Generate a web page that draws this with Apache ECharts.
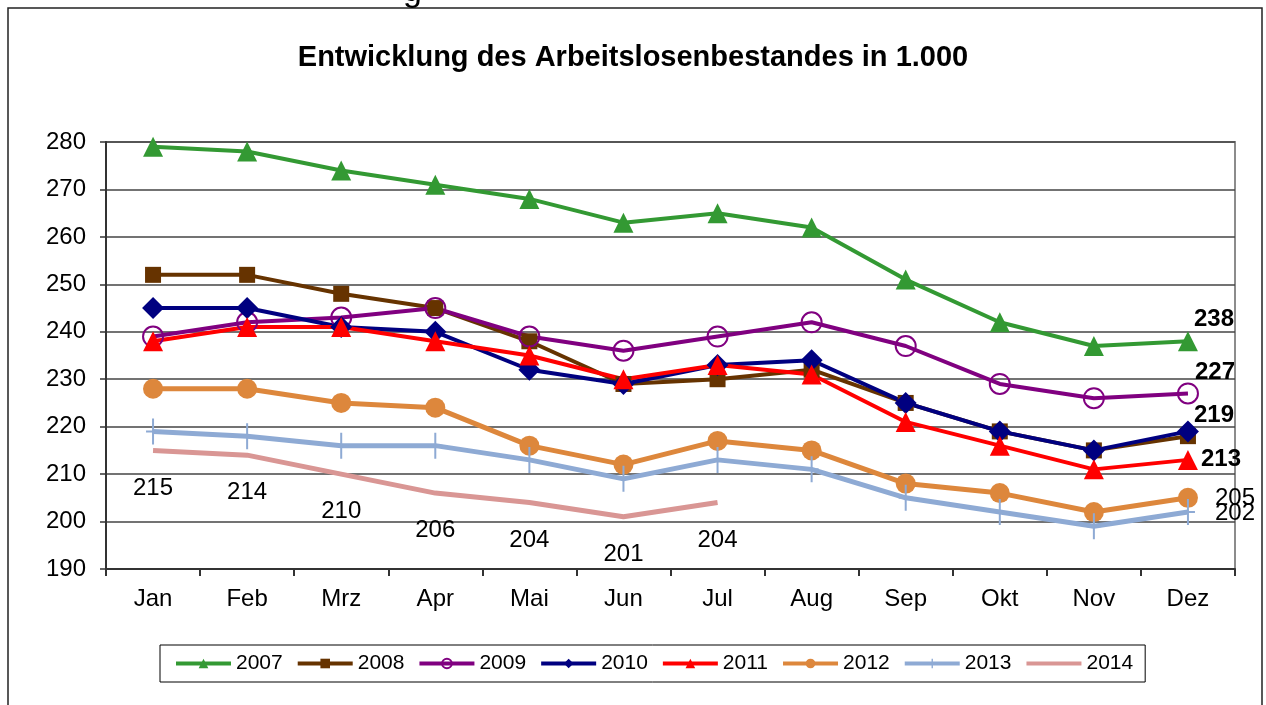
<!DOCTYPE html>
<html>
<head>
<meta charset="utf-8">
<script src="https://cdn.jsdelivr.net/npm/echarts@6/dist/echarts.min.js"></script>
<style>
  html, body { margin: 0; padding: 0; background: #fff; }
  #chart { width: 1266px; height: 705px; }
</style>
</head>
<body>
<div id="chart"></div>
<script>
// Monate
var months = ['Jan', 'Feb', 'Mrz', 'Apr', 'Mai', 'Jun', 'Jul', 'Aug', 'Sep', 'Okt', 'Nov', 'Dez'];
// Arbeitslosenbestand in 1.000 je Jahr
var y2007 = [279, 278, 274, 271, 268, 263, 265, 262, 251, 242, 237, 238];
var y2008 = [252, 252, 248, 245, 238, 229, 230, 232, 225, 219, 215, 218];
var y2009 = [239, 242, 243, 245, 239, 236, 239, 242, 237, 229, 226, 227];
var y2010 = [245, 245, 241, 240, 232, 229, 233, 234, 225, 219, 215, 219];
var y2011 = [238, 241, 241, 238, 235, 230, 233, 231, 221, 216, 211, 213];
var y2012 = [228, 228, 225, 224, 216, 212, 217, 215, 208, 206, 202, 205];
var y2013 = [219, 218, 216, 216, 213, 209, 213, 211, 205, 202, 199, 202];
var y2014 = [215, 214, 210, 206, 204, 201, 204];
var yTicks = [190, 280, 10]; // min, max, interval

var FONT = '"Liberation Sans", Arial, sans-serif';
var plusPath = 'path://M6,0 L8,0 L8,12 L14,12 L14,14 L8,14 L8,26 L6,26 L6,14 L0,14 L0,12 L6,12 Z';

// Beschriftung am letzten Punkt (Dez)
function lastLabel(arr, offset, bold) {
    return arr.map(function (v, i) {
        if (i !== arr.length - 1) return v;
        return {
            value: v,
            label: {
                show: true,
                position: 'right',
                distance: 0,
                offset: offset,
                fontFamily: FONT,
                fontSize: 24,
                fontWeight: bold ? 'bold' : 'normal',
                color: '#000'
            }
        };
    });
}

function line(name, data, color, symbol, size, width) {
    return {
        name: name,
        type: 'line',
        data: data,
        symbol: symbol,
        symbolSize: size,
        clip: false,
        lineStyle: { color: color, width: width || 4 },
        itemStyle: { color: color },
        emphasis: { disabled: true },
        animation: false
    };
}

var chart = echarts.init(document.getElementById('chart'));

var s2009 = line('2009', lastLabel(y2009, [-4, -21], true), '#800080', 'circle', 20);
s2009.itemStyle = { color: 'rgba(255,255,255,0)', borderColor: '#800080', borderWidth: 2 };

var s2014 = line('2014', y2014, '#d99694', 'circle', 1, 5);
s2014.itemStyle = { color: 'rgba(0,0,0,0)' };
s2014.label = {
    show: true,
    position: 'bottom',
    distance: 25,
    fontFamily: FONT,
    fontSize: 24,
    color: '#000'
};

chart.setOption({
    backgroundColor: '#fff',
    textStyle: { fontFamily: FONT },
    title: {
        text: 'Entwicklung des Arbeitslosenbestandes in 1.000',
        left: 'center',
        top: 38,
        textStyle: { fontFamily: FONT, fontSize: 29, fontWeight: 'bold', color: '#000' }
    },
    graphic: [
        {
            type: 'rect',
            shape: { x: 8, y: 8, width: 1254, height: 720 },
            style: { fill: 'none', stroke: '#222', lineWidth: 1.5 },
            silent: true
        },
        {
            type: 'text',
            x: 403,
            y: 9,
            style: { text: 'g', fontFamily: FONT, fontSize: 34, fill: '#000', verticalAlign: 'bottom' },
            silent: true
        }
    ],
    legend: {
        left: 160,
        top: 645,
        padding: [8, 12, 8, 14],
        borderColor: '#000',
        borderWidth: 1,
        itemWidth: 55,
        itemHeight: 12,
        itemGap: 13,
        lineStyle: { width: 4 },
        textStyle: { fontFamily: FONT, fontSize: 21, color: '#000' },
        data: ['2007', '2008', '2009', '2010', '2011', '2012', '2013', '2014']
    },
    grid: {
        left: 106,
        right: 31,
        top: 142,
        bottom: 136,
        show: true,
        borderColor: '#8c8c8c',
        borderWidth: 2,
        backgroundColor: '#fff'
    },
    xAxis: {
        type: 'category',
        data: months,
        boundaryGap: true,
        axisLine: { lineStyle: { color: '#333', width: 2 } },
        axisTick: { show: true, length: 7, alignWithLabel: false, lineStyle: { color: '#333', width: 2 } },
        axisLabel: { fontFamily: FONT, fontSize: 24, color: '#000', margin: 18 }
    },
    yAxis: {
        type: 'value',
        min: yTicks[0],
        max: yTicks[1],
        interval: yTicks[2],
        axisLine: { show: true, lineStyle: { color: '#333', width: 2 } },
        axisTick: { show: true, length: 6, lineStyle: { color: '#333', width: 1.5 } },
        axisLabel: { fontFamily: FONT, fontSize: 24, color: '#000', margin: 20 },
        splitLine: { lineStyle: { color: '#444', width: 1.5 } }
    },
    series: [
        line('2007', lastLabel(y2007, [-4, -22], true), '#339933', 'triangle', 20),
        line('2008', y2008, '#663300', 'rect', 16),
        s2009,
        line('2010', lastLabel(y2010, [-5, -16], true), '#000080', 'diamond', 22),
        line('2011', lastLabel(y2011, [3, -1], true), '#ff0000', 'triangle', 20),
        line('2012', lastLabel(y2012, [17, 1], false), '#dd873c', 'circle', 20, 5),
        line('2013', lastLabel(y2013, [20, 1], false), '#8eaad4', plusPath, [14, 26], 5),
        s2014
    ]
});
</script>
</body>
</html>
